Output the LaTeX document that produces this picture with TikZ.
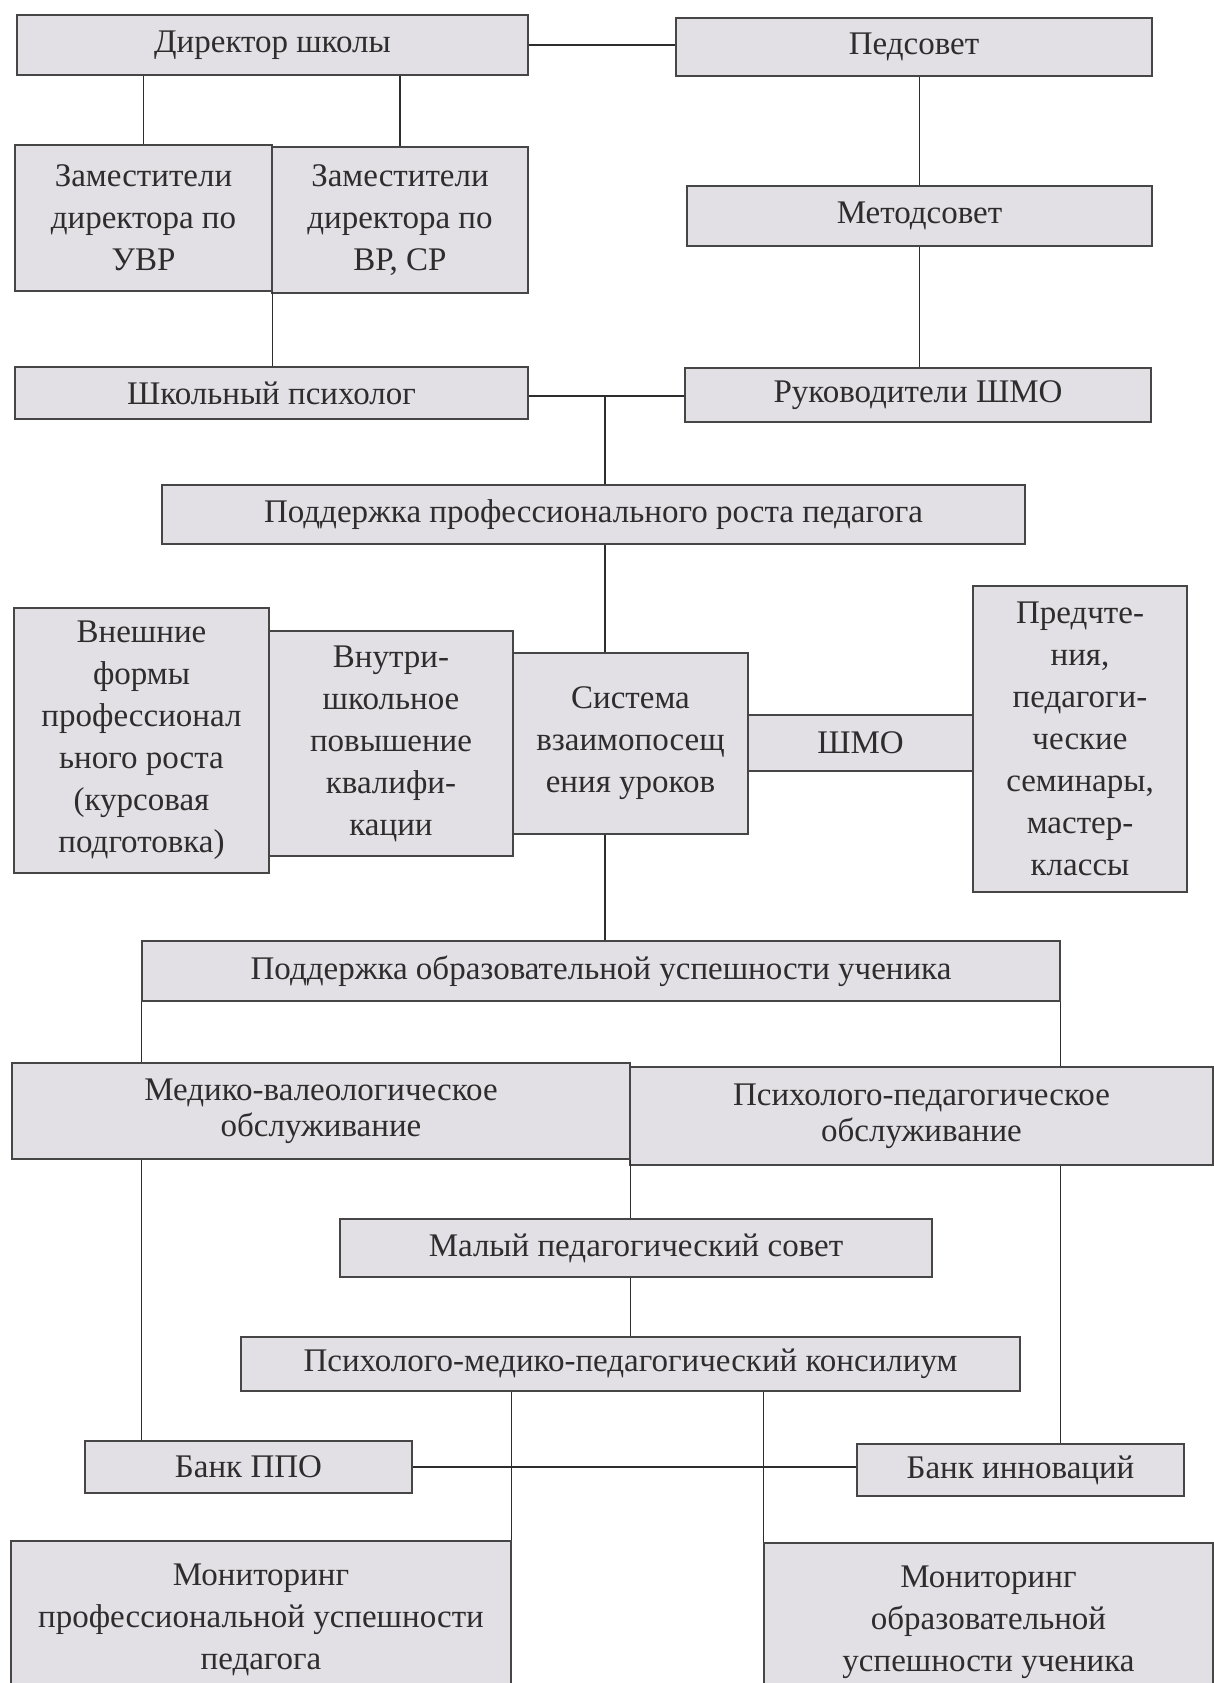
\documentclass[tikz,border=0pt]{standalone}
\usepackage{fontspec}
\setmainfont{Liberation Serif}
\definecolor{boxfill}{RGB}{226,223,229}
\definecolor{boxline}{RGB}{70,70,70}
\definecolor{inkgray}{RGB}{45,45,45}
\begin{document}
\begin{tikzpicture}[x=1pt,y=-1pt,
  box/.style={draw=boxline,line width=1.6pt,fill=boxfill,inner sep=0pt,align=center,
    text=inkgray,font=\fontsize{33}{42}\selectfont},
  link/.style={draw=inkgray,line width=1.2pt}]
\useasboundingbox (0,0) rectangle (1213,1683);
\node[box,minimum width=511pt,minimum height=60pt] (dir) at (272.5,45) {Директор школы};
\node[box,minimum width=476pt,minimum height=58pt] (ped) at (914,47) {Педсовет};
\node[box,minimum width=257pt,minimum height=146pt] (zuvr) at (143.5,218) {Заместители\\директора по\\УВР};
\node[box,minimum width=256pt,minimum height=146pt] (zvr) at (400,220) {Заместители\\директора по\\ВР, СР};
\node[box,minimum width=465pt,minimum height=60pt] (met) at (919.5,216) {Методсовет};
\node[box,minimum width=513pt,minimum height=52pt] (psy) at (271.5,393) {Школьный психолог};
\node[box,minimum width=466pt,minimum height=54pt] (rshmo) at (918,395) {Руководители ШМО};
\coordinate (hub) at (605,396);
\node[box,minimum width=863pt,minimum height=59pt] (ppr) at (593.5,514.5) {Поддержка профессионального роста педагога};
\node[box,minimum width=255pt,minimum height=265pt] (vnesh) at (141.5,740.5) {Внешние\\формы\\профессионал\\ьного роста\\(курсовая\\подготовка)};
\node[box,minimum width=244pt,minimum height=225pt] (vnutr) at (391,743.5) {Внутри-\\школьное\\повышение\\квалифи-\\кации};
\node[box,minimum width=235pt,minimum height=181pt] (sys) at (630.5,743.5) {Система\\взаимопосещ\\ения уроков};
\node[box,minimum width=225pt,minimum height=56pt] (shmo) at (860.5,743) {ШМО};
\node[box,minimum width=214pt,minimum height=306pt] (pred) at (1080,739) {Предчте-\\ния,\\педагоги-\\ческие\\семинары,\\мастер-\\классы};
\node[box,minimum width=918pt,minimum height=60pt] (pou) at (601,971) {Поддержка образовательной успешности ученика};
\node[box,minimum width=618pt,minimum height=96pt,font=\fontsize{33}{36}\selectfont] (med) at (321,1111) {Медико-валеологическое\\обслуживание};
\node[box,minimum width=583pt,minimum height=98pt,font=\fontsize{33}{36}\selectfont] (psped) at (921.5,1116) {Психолого-педагогическое\\обслуживание};
\node[box,minimum width=592pt,minimum height=58pt] (mal) at (636,1248) {Малый педагогический совет};
\node[box,minimum width=779pt,minimum height=54pt] (pmpk) at (630.5,1364) {Психолого-медико-педагогический консилиум};
\node[box,minimum width=327pt,minimum height=52pt] (bppo) at (248.5,1467) {Банк ППО};
\node[box,minimum width=327pt,minimum height=52pt] (binn) at (1020.5,1470) {Банк инноваций};
\node[box,minimum width=500pt,minimum height=158pt] (monp) at (261,1620) {Мониторинг\\профессиональной успешности\\педагога};
\node[box,minimum width=449pt,minimum height=158pt] (mono) at (988.5,1622) {Мониторинг\\образовательной\\успешности ученика};
\draw[link] (dir.east) -- (dir.east -| ped.west);
\draw[link] (zuvr.north |- dir.south) -- (zuvr.north);
\draw[link] (zvr.north |- dir.south) -- (zvr.north);
\draw[link] (zuvr.south east) -- (zuvr.south east |- psy.north);
\draw[link] (met.north |- ped.south) -- (met.north);
\draw[link] (met.south) -- (met.south |- rshmo.north);
\draw[link] (psy.east |- hub) -- (rshmo.west |- hub);
\draw[link] (hub) -- (hub |- ppr.north);
\draw[link] (hub |- ppr.south) -- (hub |- sys.north);
\draw[link] (hub |- sys.south) -- (hub |- pou.north);
\draw[link] (pou.south west) -- (pou.south west |- med.north);
\draw[link] (pou.south east) -- (pou.south east |- psped.north);
\draw[link] (med.south east) -- (med.south east |- mal.north);
\draw[link] (med.south east |- mal.south) -- (med.south east |- pmpk.north);
\draw[link] (pou.south west |- med.south) -- (pou.south west |- bppo.north);
\draw[link] (pou.south east |- psped.south) -- (pou.south east |- binn.north);
\draw[link] (bppo.east) -- (bppo.east -| binn.west);
\draw[link] (monp.north east |- pmpk.south) -- (monp.north east);
\draw[link] (mono.north west |- pmpk.south) -- (mono.north west);
\end{tikzpicture}
\end{document}
